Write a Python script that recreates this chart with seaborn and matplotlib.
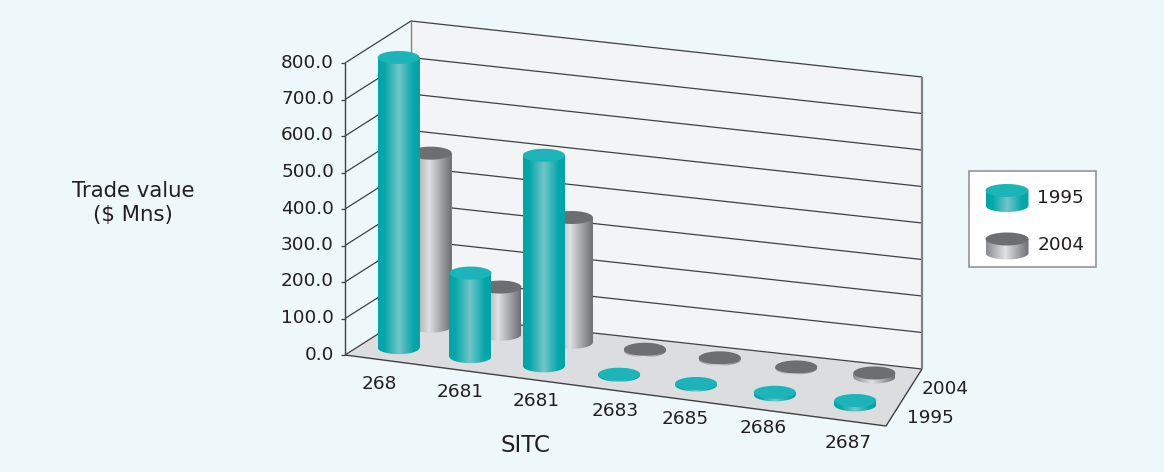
import numpy as np
import pandas as pd
import matplotlib
matplotlib.use("Agg")
import matplotlib.pyplot as plt
import seaborn as sns
from matplotlib.colors import LinearSegmentedColormap
from matplotlib.path import Path
from matplotlib.patches import Polygon, Rectangle
from matplotlib.transforms import Affine2D

# ---- data -------------------------------------------------------------
categories = ["268", "2681", "2681", "2683", "2685", "2686", "2687"]
years = ["1995", "2004"]
values_1995 = [795.0, 229.0, 577.0, 3.0, 4.0, 7.0, 12.0]
values_2004 = [474.0, 129.0, 342.0, 4.0, 4.0, 3.0, 11.0]
value_ticks = [0, 100, 200, 300, 400, 500, 600, 700, 800]

# ---- style ------------------------------------------------------------
sns.set_theme(style="white")
plt.rcParams["font.family"] = ["DejaVu Sans"]
BG, WALL, FLOOR = "#EEF7F9", "#F2F4F6", "#DCDDDF"
LINE, EDGE, TXT = "#404042", "#808285", "#231F20"
TOPS = {"1995": "#1CB4B9", "2004": "#6D6E71"}
CMAPS = {
    "1995": LinearSegmentedColormap.from_list(
        "t", [(0, "#00A5A8"), (0.15, "#05A7AA"), (0.5, "#72C6C9"), (0.85, "#05A7AA"), (1, "#00A5A8")]),
    "2004": LinearSegmentedColormap.from_list(
        "g", [(0, "#8A8B8D"), (0.45, "#E0E1E2"), (1, "#6D6E71")]),
}
DEPTH = {"1995": 0.28, "2004": 0.78}
W, H = 1164, 472

df = pd.DataFrame({
    "pos": list(range(len(categories))) * 2,
    "Year": ["1995"] * len(categories) + ["2004"] * len(categories),
    "value": values_1995 + values_2004,
})

fig = plt.figure(figsize=(W / 100, H / 100), dpi=100, facecolor=BG)
ax = fig.add_axes([0, 0, 1, 1])
sns.barplot(data=df, x="pos", y="value", hue="Year", hue_order=years, ax=ax,
            legend=False, errorbar=None)
ax.axis("off")
px = Affine2D().scale(1, -1).translate(0, H)
disp = Affine2D()

# ---- oblique projection of the chart box ------------------------------
N = len(categories)
KY = 292 / 800
FL, FR, BL, BR = [np.array(p, float) for p in [(345, 355), (886, 426), (411, 313), (922, 369)]]
WARP = 0.08


def project(u, v, value=0.0):
    s = u / N
    s = s + WARP * s * (s - 1)
    front = FL + (FR - FL) * s
    back = BL + (BR - BL) * s
    p = front + (back - front) * v
    return p[0], p[1] - value * KY


def poly(points, **kw):
    p = Polygon(points, closed=True, transform=px, clip_on=False, **kw)
    ax.add_patch(p)


def line(points, color=LINE, lw=1.0, z=3):
    xs, ys = zip(*points)
    ax.plot(xs, ys, color=color, lw=lw, transform=px, clip_on=False, zorder=z, solid_capstyle="butt")


# walls and floor
poly([project(0, 1, 800), project(N, 1, 800), project(N, 1), project(0, 1)], fc=WALL, ec="none", zorder=1)
poly([project(0, 0), project(N, 0), project(N, 1), project(0, 1)], fc=FLOOR, ec="none", zorder=1)
for val in value_ticks:
    a, c, d = project(0, 0, val), project(0, 1, val), project(N, 1, val)
    line([a, c, d], lw=0.9)
    line([(a[0] - 4, a[1]), a], lw=0.9)
    ax.text(a[0] - 11, a[1] - 0.5, f"{val:.1f}", ha="right", va="center", fontsize=13.3, color=TXT,
            transform=px, clip_on=False)
line([project(0, 0, 800), project(0, 0)], lw=1.0)
line([project(0, 1, 800), project(0, 1)], color=EDGE, lw=1.0)
line([project(N, 1, 800), project(N, 1)], color=EDGE, lw=1.6)
line([project(0, 0), project(N, 0), project(N, 1)], lw=1.0)


# ---- cylinders --------------------------------------------------------
def cylinder(cx, base_y, height_px, year, z, bar=None, w=42.0, e=6.5):
    l, r = cx - w / 2, cx + w / 2
    top_y = base_y - height_px
    t = np.linspace(0, np.pi, 40)
    lower = [(cx - (w / 2) * np.cos(a), base_y + e * np.sin(a)) for a in t]
    verts = [(l, top_y)] + lower + [(r, top_y), (l, top_y)]
    clip = Path(verts)
    if bar is not None:
        bar.set_transform(px)
        bar.set_xy((l, top_y)); bar.set_width(w); bar.set_height(height_px)
        bar.set_facecolor(CMAPS[year](0.0)); bar.set_edgecolor("none"); bar.set_zorder(z)
        bar.set_clip_on(False)
    im = ax.imshow(np.linspace(0, 1, 128)[None, :], cmap=CMAPS[year], aspect="auto",
                   extent=(l, r, H - (base_y + e + 1), H - (top_y - 1)), zorder=z + 0.1,
                   interpolation="bilinear", vmin=0, vmax=1)
    im.set_transform(disp)
    im.set_clip_path(clip, px)
    ang = np.linspace(0, 2 * np.pi, 80)
    poly(np.c_[cx + (w / 2) * np.cos(ang), top_y + e * np.sin(ang)], fc=TOPS[year], ec="none", zorder=z + 0.2)


for year, cont in zip(years, ax.containers):
    base_z = 4 if year == "2004" else 6
    for i, bar in enumerate(cont):
        val = bar.get_height()
        x0, y0 = project(i + 0.5, DEPTH[year])
        cylinder(x0, y0, val * KY, year, base_z + i * 0.01, bar=bar)

# ---- text -------------------------------------------------------------
label_xy = [(379, 384), (460, 392), (536, 401), (615, 411), (685, 419), (763, 428), (848, 443)]
for lab, (x, y) in zip(categories, label_xy):
    ax.text(x, y, lab, ha="center", va="center", fontsize=13.3, color=TXT, transform=px)
ax.text(922, 389, "2004", ha="left", va="center", fontsize=13.3, color=TXT, transform=px)
ax.text(907, 418, "1995", ha="left", va="center", fontsize=13.3, color=TXT, transform=px)
ax.text(525, 445, "SITC", ha="center", va="center", fontsize=16.5, color=TXT, transform=px)
ax.text(133, 203, "Trade value\n($ Mns)", ha="center", va="center", fontsize=15.3, color=TXT,
        transform=px, linespacing=1.2)

# ---- legend -----------------------------------------------------------
ax.add_patch(Rectangle((969, 171), 127, 96, fc="white", ec="#939598", lw=1.2, transform=px, zorder=8))
cylinder(1007, 205.5, 15, "1995", 9, w=43)
cylinder(1007, 253, 14, "2004", 9, w=43)
ax.text(1037, 198, "1995", ha="left", va="center", fontsize=13.3, color=TXT, transform=px, zorder=10)
ax.text(1038, 245, "2004", ha="left", va="center", fontsize=13.3, color=TXT, transform=px, zorder=10)

ax.set_xlim(0, 1); ax.set_ylim(0, 1)
fig.savefig("out.png", dpi=100, facecolor=BG)
